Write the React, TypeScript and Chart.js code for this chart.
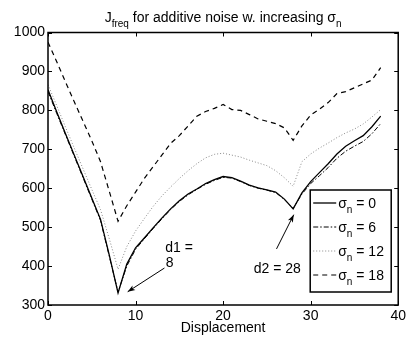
import React, { useEffect, useRef } from 'react';
import { Chart, registerables } from 'chart.js';

Chart.register(...registerables);

const displacement = [0, 1, 2, 3, 4, 5, 6, 7, 8, 9, 10, 11, 12, 13, 14, 15, 16, 17, 18, 19, 20, 21, 22, 23, 24, 25, 26, 27, 28, 29, 30, 31, 32, 33, 34, 35, 36, 37, 38];
const sigma0 = [853, 796, 740, 685, 630, 575, 520, 428, 331, 405, 447, 472, 498, 523, 547, 568, 585, 598, 612, 622, 630, 627, 618, 608, 601, 596, 590, 572, 547, 588, 617, 640, 663, 688, 708, 722, 735, 758, 785];
const sigma6 = [848, 792, 737, 682, 627, 572, 517, 425, 333, 400, 443, 470, 496, 521, 545, 566, 583, 597, 610, 620, 628, 626, 617, 607, 600, 595, 589, 571, 548, 585, 612, 632, 653, 677, 695, 708, 720, 740, 766];
const sigma12 = [866, 812, 757, 703, 650, 597, 545, 470, 392, 450, 490, 522, 553, 580, 603, 625, 645, 663, 678, 687, 690, 685, 680, 672, 665, 658, 645, 627, 605, 668, 688, 703, 716, 730, 742, 752, 765, 783, 802];
const sigma18 = [975, 925, 873, 822, 772, 722, 668, 592, 515, 555, 590, 625, 655, 685, 715, 735, 760, 785, 797, 805, 815, 802, 800, 789, 778, 772, 766, 755, 723, 760, 788, 803, 820, 843, 848, 858, 868, 878, 910];
const noiseLevels = ['0', '6', '12', '18'];
const xTicks = [0, 10, 20, 30, 40];
const yTicks = [300, 400, 500, 600, 700, 800, 900, 1000];

const FONT = "'Liberation Sans', Arial, Helvetica, sans-serif";

const styles = [
  { color: '#000', dash: [] as number[], width: 1.3 },
  { color: '#000', dash: [5, 2, 1.5, 2], width: 1 },
  { color: '#888', dash: [1, 2], width: 1 },
  { color: '#000', dash: [5, 4], width: 1.2 },
];

function drawArrow(ctx: CanvasRenderingContext2D, x1: number, y1: number, x2: number, y2: number) {
  ctx.beginPath();
  ctx.moveTo(x1, y1);
  ctx.lineTo(x2, y2);
  ctx.stroke();
  const ang = Math.atan2(y2 - y1, x2 - x1);
  const len = 8;
  const w = 0.35;
  ctx.beginPath();
  ctx.moveTo(x2, y2);
  ctx.lineTo(x2 - len * Math.cos(ang - w), y2 - len * Math.sin(ang - w));
  ctx.lineTo(x2 - len * 0.7 * Math.cos(ang), y2 - len * 0.7 * Math.sin(ang));
  ctx.lineTo(x2 - len * Math.cos(ang + w), y2 - len * Math.sin(ang + w));
  ctx.closePath();
  ctx.fill();
}

function drawRich(ctx: CanvasRenderingContext2D, parts: { t: string; sub?: boolean }[], x: number, y: number, size: number, subSize: number, align: 'left' | 'center') {
  const widths = parts.map((p) => {
    ctx.font = `${p.sub ? subSize : size}px ${FONT}`;
    return ctx.measureText(p.t).width;
  });
  const total = widths.reduce((a, b) => a + b, 0);
  let cx = align === 'center' ? x - total / 2 : x;
  ctx.textAlign = 'left';
  ctx.textBaseline = 'alphabetic';
  parts.forEach((p, i) => {
    ctx.font = `${p.sub ? subSize : size}px ${FONT}`;
    ctx.fillText(p.t, cx, p.sub ? y + 5 : y);
    cx += widths[i];
  });
}

const decor = {
  id: 'decor',
  afterDatasetsDraw(chart: any) {
    const { ctx, chartArea: a, scales } = chart;
    const x = scales.x;
    const y = scales.y;
    ctx.save();
    ctx.strokeStyle = '#000';
    ctx.fillStyle = '#000';
    ctx.setLineDash([]);
    ctx.lineWidth = 1;
    const seg = (x1: number, y1: number, x2: number, y2: number) => {
      ctx.beginPath();
      ctx.moveTo(x1, y1);
      ctx.lineTo(x2, y2);
      ctx.stroke();
    };
    xTicks.forEach((v) => {
      const px = Math.round(x.getPixelForValue(v)) + 0.5;
      seg(px, a.bottom, px, a.bottom - 4);
      seg(px, a.top, px, a.top + 4);
    });
    yTicks.forEach((v) => {
      const py = Math.round(y.getPixelForValue(v)) + 0.5;
      seg(a.left, py, a.left + 4, py);
      seg(a.right, py, a.right - 4, py);
    });
    ctx.lineWidth = 1.5;
    ctx.strokeRect(a.left, a.top, a.right - a.left, a.bottom - a.top);

    const cx = (a.left + a.right) / 2;
    drawRich(ctx, [
      { t: 'J' },
      { t: 'freq', sub: true },
      { t: ' for additive noise w. increasing ' },
      { t: 'σ' },
      { t: 'n', sub: true },
    ], cx, 22, 14, 10, 'center');

    ctx.font = `14px ${FONT}`;
    ctx.textAlign = 'center';
    ctx.textBaseline = 'alphabetic';
    ctx.fillText('Displacement', cx, 332);

    ctx.lineWidth = 1;
    ctx.font = `14px ${FONT}`;
    ctx.textAlign = 'left';
    ctx.textBaseline = 'middle';
    const px = (v: number) => x.getPixelForValue(v);
    const py = (v: number) => y.getPixelForValue(v);
    ctx.fillText('d1 =', px(13.4), py(447));
    ctx.fillText('8', px(13.45), py(408));
    drawArrow(ctx, px(13.3), py(395), px(9.1), py(334));
    ctx.fillText('d2 = 28', px(23.5), py(393));
    drawArrow(ctx, px(26.1), py(444), px(28.07), py(532));

    const L = a.right - 88;
    const T = a.bottom - 115;
    const W = 81;
    const H = 102;
    ctx.fillStyle = '#fff';
    ctx.fillRect(L, T, W, H);
    ctx.lineWidth = 1.5;
    ctx.strokeStyle = '#000';
    ctx.strokeRect(L, T, W, H);
    noiseLevels.forEach((lvl, i) => {
      const ey = T + 13 + i * 24;
      const s = styles[i];
      ctx.strokeStyle = s.color;
      ctx.lineWidth = s.width;
      ctx.setLineDash(s.dash);
      ctx.beginPath();
      ctx.moveTo(L + 3, ey);
      ctx.lineTo(L + 26, ey);
      ctx.stroke();
      ctx.setLineDash([]);
      ctx.fillStyle = '#000';
      drawRich(ctx, [{ t: 'σ' }, { t: 'n', sub: true }, { t: ' = ' + lvl }], L + 28, ey + 5, 14, 10, 'left');
    });
    ctx.restore();
  },
};

export default function App() {
  const ref = useRef<HTMLCanvasElement>(null);
  useEffect(() => {
    document.body.style.margin = '0';
    const series = [sigma0, sigma6, sigma12, sigma18];
    const chart = new Chart(ref.current as HTMLCanvasElement, {
      type: 'line',
      data: {
        datasets: series.map((vals, i) => ({
          label: 'σn = ' + noiseLevels[i],
          data: displacement.map((d, j) => ({ x: d, y: vals[j] })),
          borderColor: styles[i].color,
          borderDash: styles[i].dash,
          borderWidth: styles[i].width,
          pointRadius: 0,
          fill: false,
          tension: 0,
        })),
      },
      options: {
        responsive: false,
        animation: false,
        devicePixelRatio: 1,
        layout: { padding: { top: 32.5, right: 9, left: 0, bottom: 0 } },
        plugins: { legend: { display: false }, title: { display: false }, tooltip: { enabled: false } },
        scales: {
          x: {
            type: 'linear',
            min: 0,
            max: 40,
            afterFit: (s: any) => { s.height = 36; },
            afterBuildTicks: (s: any) => { s.ticks = xTicks.map((v) => ({ value: v })); },
            grid: { display: false, drawTicks: false },
            border: { display: false },
            ticks: { color: '#000', padding: 3, maxRotation: 0, font: { family: FONT, size: 14 }, callback: (v: any) => String(v) },
          },
          y: {
            type: 'linear',
            min: 300,
            max: 1000,
            afterFit: (s: any) => { s.width = 48; },
            afterBuildTicks: (s: any) => { s.ticks = yTicks.map((v) => ({ value: v })); },
            grid: { display: false, drawTicks: false },
            border: { display: false },
            ticks: { color: '#000', padding: 3, font: { family: FONT, size: 14 }, callback: (v: any) => String(v) },
          },
        },
      },
      plugins: [decor],
    });
    return () => chart.destroy();
  }, []);
  return <canvas ref={ref} width={409} height={341} style={{ display: 'block' }} />;
}
